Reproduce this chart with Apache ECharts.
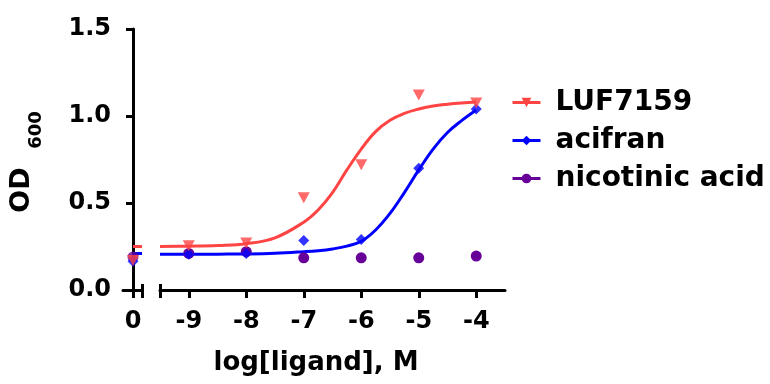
<!DOCTYPE html>
<html>
<head>
<meta charset="utf-8">
<script src="https://cdn.jsdelivr.net/npm/echarts@6/dist/echarts.min.js"></script>
<style>
  html, body { margin: 0; background: #fff; }
  #chart { width: 770px; height: 384px; }
</style>
</head>
<body>
<div id="chart"></div>
<script>
const seriesNames = ["LUF7159", "acifran", "nicotinic acid"];
const colors = ["#ff4444", "#0000ff", "#660099"];

// measured points at log[ligand]
const logDose = [-9, -8, -7, -6, -5, -4];
const lufPoints = [0.255, 0.27, 0.53, 0.72, 1.12, 1.075];
const aciPoints = [0.205, 0.21, 0.285, 0.29, 0.70, 1.04];
const nicPoints = [0.21, 0.22, 0.185, 0.185, 0.185, 0.195];

// vehicle (x = 0 segment)
const vehicleX = [0];
const lufVehicle = [0.17];
const aciVehicle = [0.165];
const nicVehicle = [0.19];

// fitted curves
const curveX = [-9.5, -9, -8.5, -8, -7.5, -7, -6.75, -6.5, -6.25, -6, -5.75, -5.5, -5.25, -5, -4.75, -4.5, -4.25, -4];
const lufCurve = [0.25, 0.252, 0.256, 0.266, 0.30, 0.39, 0.46, 0.56, 0.69, 0.81, 0.91, 0.975, 1.015, 1.04, 1.058, 1.068, 1.075, 1.08];
const aciCurve = [0.205, 0.205, 0.206, 0.207, 0.211, 0.22, 0.226, 0.236, 0.252, 0.28, 0.345, 0.44, 0.56, 0.69, 0.81, 0.905, 0.975, 1.035];

// curve baselines drawn in the x = 0 segment
const stubX = [0, 0.9];
const lufStub = [0.25, 0.25];
const aciStub = [0.21, 0.21];

const xTicksMain = [-9, -8, -7, -6, -5, -4];

const zip = (xs, ys) => xs.map((x, i) => [x, ys[i]]);

const FONT = "DejaVu Sans";
const labelStyle = { color: "#000", fontFamily: FONT, fontWeight: "bold", fontSize: 24 };
const axisLine = { show: true, lineStyle: { color: "#000", width: 3 } };
const tickLine = { color: "#000", width: 3 };

const chart = echarts.init(document.getElementById("chart"));

const option = {
  animation: false,
  grid: [
    { left: 123, top: 29, width: 19, height: 261 },
    { left: 160, top: 29, width: 345, height: 261 }
  ],
  xAxis: [
    {
      gridIndex: 0, type: "value", position: "bottom", min: -1, max: 0.9,
      axisLine: axisLine,
      axisTick: { customValues: [0, 0.9], length: 8, lineStyle: tickLine },
      axisLabel: Object.assign({ customValues: [0], margin: 20, formatter: "{value}" }, labelStyle),
      splitLine: { show: false }
    },
    {
      // break cap above the axis
      gridIndex: 0, type: "value", position: "bottom", min: -1, max: 0.9,
      axisLine: { show: false },
      axisTick: { customValues: [0.9], inside: true, length: 6, lineStyle: tickLine },
      axisLabel: { show: false },
      splitLine: { show: false }
    },
    {
      gridIndex: 1, type: "value", position: "bottom", min: -9.5, max: -3.5,
      axisLine: axisLine,
      axisTick: { customValues: [-9.5].concat(xTicksMain), length: 8, lineStyle: tickLine },
      axisLabel: Object.assign({ customValues: xTicksMain, margin: 20, formatter: "{value}" }, labelStyle),
      splitLine: { show: false }
    },
    {
      gridIndex: 1, type: "value", position: "bottom", min: -9.5, max: -3.5,
      axisLine: { show: false },
      axisTick: { customValues: [-9.5], inside: true, length: 6, lineStyle: tickLine },
      axisLabel: { show: false },
      splitLine: { show: false }
    }
  ],
  yAxis: [
    {
      gridIndex: 0, type: "value", min: 0, max: 1.5, interval: 0.5,
      axisLine: axisLine,
      axisTick: { show: true, length: 7, lineStyle: tickLine },
      axisLabel: Object.assign({ margin: 12, formatter: v => v.toFixed(1) }, labelStyle),
      splitLine: { show: false }
    },
    {
      gridIndex: 1, type: "value", min: 0, max: 1.5, interval: 0.5,
      show: false, splitLine: { show: false }
    }
  ],
  legend: {
    orient: "vertical",
    left: 506, top: 83,
    itemWidth: 28, itemHeight: 12, itemGap: 9,
    lineStyle: { width: 3, opacity: 1 },
    textStyle: { color: "#000", fontFamily: FONT, fontWeight: "bold", fontSize: 28, lineHeight: 29, padding: [0, 0, 0, 10] },
    data: seriesNames
  },
  graphic: [
    {
      type: "text", x: 316, y: 363,
      style: { text: "log[ligand], M", fill: "#000", font: "bold 26px 'DejaVu Sans'", align: "center", verticalAlign: "middle" }
    },
    {
      type: "text", x: 22, y: 190, rotation: Math.PI / 2,
      style: { text: "OD", fill: "#000", font: "bold 27px 'DejaVu Sans'", align: "center", verticalAlign: "middle" }
    },
    {
      type: "text", x: 36, y: 130, rotation: Math.PI / 2,
      style: { text: "600", fill: "#000", font: "bold 18px 'DejaVu Sans'", align: "center", verticalAlign: "middle" }
    }
  ],
  series: [
    {
      name: seriesNames[0], type: "line", xAxisIndex: 2, yAxisIndex: 1,
      data: zip(curveX, lufCurve), smooth: 0.4, showSymbol: false,
      symbol: "triangle", symbolRotate: 180,
      color: colors[0], lineStyle: { color: colors[0], width: 3 }, z: 3
    },
    {
      name: seriesNames[1], type: "line", xAxisIndex: 2, yAxisIndex: 1,
      data: zip(curveX, aciCurve), smooth: 0.4, showSymbol: false,
      symbol: "diamond",
      color: colors[1], lineStyle: { color: colors[1], width: 3 }, z: 2
    },
    {
      name: seriesNames[2], type: "line", xAxisIndex: 2, yAxisIndex: 1,
      data: zip(logDose, nicPoints), symbol: "circle", symbolSize: 11,
      color: colors[2], itemStyle: { color: colors[2] }, lineStyle: { width: 0, opacity: 0 }, z: 4
    },
    {
      name: seriesNames[1], type: "scatter", xAxisIndex: 2, yAxisIndex: 1,
      data: zip(logDose, aciPoints), symbol: "diamond", symbolSize: 11,
      itemStyle: { color: colors[1] }, z: 5
    },
    {
      name: seriesNames[0], type: "scatter", xAxisIndex: 2, yAxisIndex: 1,
      data: zip(logDose, lufPoints), symbol: "triangle", symbolRotate: 180, symbolSize: [12, 11],
      itemStyle: { color: colors[0] }, z: 6
    },
    {
      name: seriesNames[0], type: "line", xAxisIndex: 0, yAxisIndex: 0,
      data: zip(stubX, lufStub), showSymbol: false,
      lineStyle: { color: colors[0], width: 3 }, z: 3
    },
    {
      name: seriesNames[1], type: "line", xAxisIndex: 0, yAxisIndex: 0,
      data: zip(stubX, aciStub), showSymbol: false,
      lineStyle: { color: colors[1], width: 3 }, z: 2
    },
    {
      name: seriesNames[2], type: "scatter", xAxisIndex: 0, yAxisIndex: 0,
      data: zip(vehicleX, nicVehicle), symbol: "circle", symbolSize: 11,
      itemStyle: { color: colors[2] }, z: 4
    },
    {
      name: seriesNames[1], type: "scatter", xAxisIndex: 0, yAxisIndex: 0,
      data: zip(vehicleX, aciVehicle), symbol: "diamond", symbolSize: 11,
      itemStyle: { color: colors[1] }, z: 5
    },
    {
      name: seriesNames[0], type: "scatter", xAxisIndex: 0, yAxisIndex: 0,
      data: zip(vehicleX, lufVehicle), symbol: "triangle", symbolRotate: 180, symbolSize: [12, 11],
      itemStyle: { color: colors[0] }, z: 6
    }
  ]
};

chart.setOption(option);
</script>
</body>
</html>
